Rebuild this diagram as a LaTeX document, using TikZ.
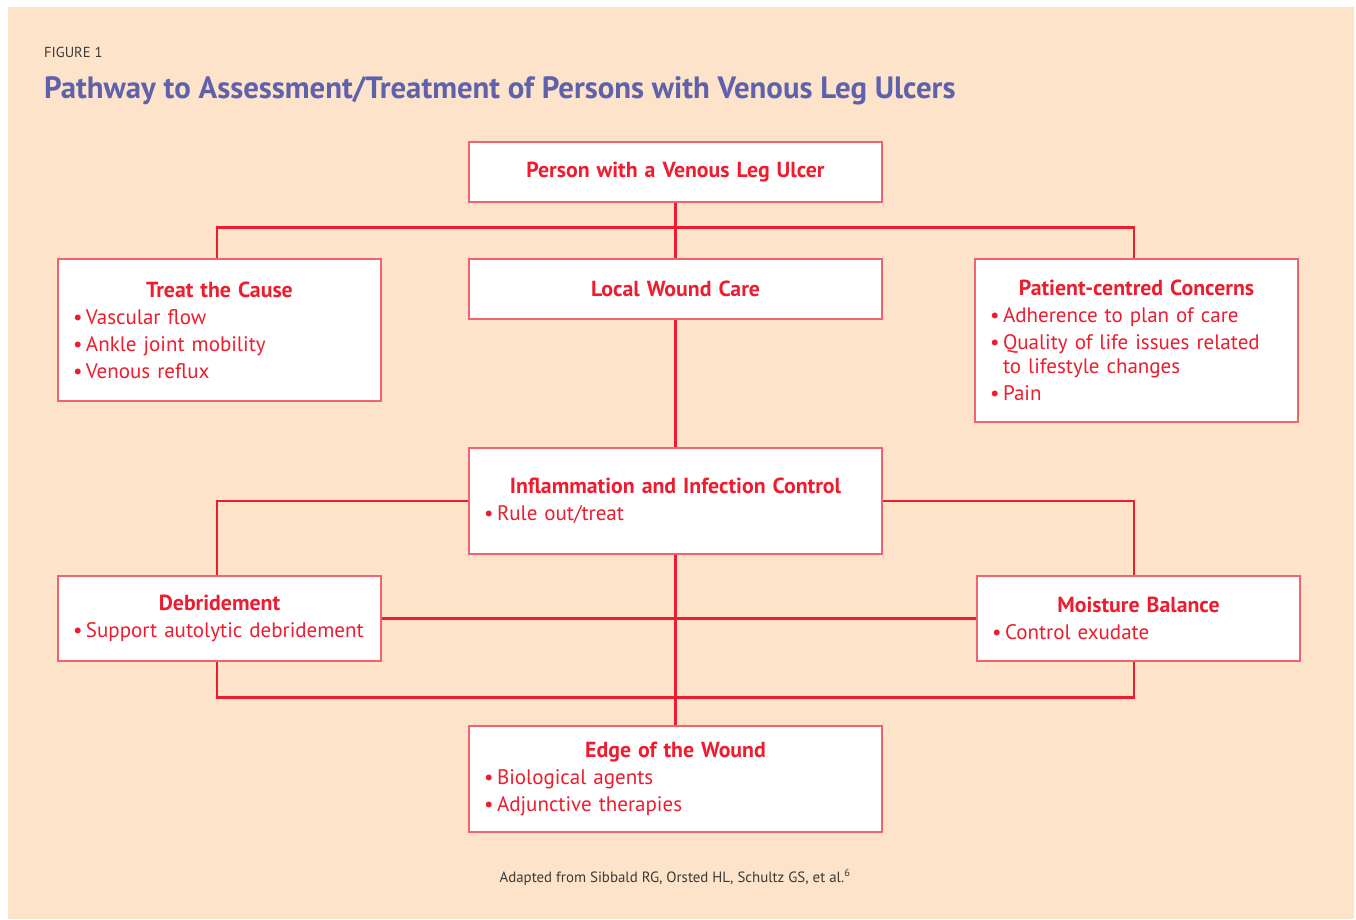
\documentclass[tikz,border=0pt]{standalone}
\usepackage{fontspec}
\setmainfont{PT Sans}
\usepackage{tikz}
\usetikzlibrary{positioning}
\usepackage{xcolor}
\definecolor{vlPeach}{HTML}{FDE3C9}
\definecolor{vlRed}{HTML}{ED1C2E}
\definecolor{vlEdge}{HTML}{F1646E}
\definecolor{vlTitle}{HTML}{5E61AC}
\definecolor{vlGrey}{HTML}{3A3A3A}
\newcommand{\cardhead}[1]{{\centering\fontsize{21.8}{24}\selectfont\bfseries #1\par}}
\newcommand{\bul}[1]{\par\hangindent=13pt\hangafter=1\makebox[13pt][l]{\textbullet}#1}
\tikzset{
  card/.style={draw=vlEdge, line width=1.3pt, fill=white, text=vlRed, align=left, inner xsep=15pt, inner ysep=0pt,
    font=\fontsize{21}{24}\selectfont, execute at begin node={\setlength{\parskip}{3pt}}},
  widecard/.style={card, minimum width=413pt, text width=383pt},
  narrowcard/.style={card, minimum width=323pt, text width=293pt},
  link/.style={draw=vlRed, line width=2.4pt}
}
\begin{document}
\begin{tikzpicture}[x=1pt,y=-1pt]
  \useasboundingbox (0,0) rectangle (1356,919);
  \fill[white] (0,0) rectangle (1356,919);
  \fill[vlPeach] (8,7) rectangle (1354,919);
  \node[anchor=base west, inner sep=0pt, text=vlGrey, font=\fontsize{14.5}{16}\selectfont] (fig) at (44,57) {FIGURE 1};
  \node[anchor=base west, inner sep=0pt, text=vlTitle, font=\fontsize{30.8}{34}\selectfont\bfseries] (title) at (44,98) {Pathway to Assessment/Treatment of Persons with Venous Leg Ulcers};
  \node[widecard, minimum height=60pt] (person) at (675.5,172) {\cardhead{Person with a Venous Leg Ulcer}};
  \node[widecard, minimum height=60pt] (local) at (675.5,289) {\cardhead{Local Wound Care}};
  \node[narrowcard, minimum height=142pt] (cause) at (219.5,330) {\cardhead{Treat the Cause}\bul{Vascular flow}\bul{Ankle joint mobility}\bul{Venous reflux}};
  \node[narrowcard, minimum height=163pt] (patient) at (1136.5,340.5) {\cardhead{Patient-centred Concerns}\bul{Adherence to plan of care}\bul{Quality of life issues related\hfil\break to lifestyle changes}\bul{Pain}};
  \node[widecard, minimum height=106pt] (inflam) at (675.5,501) {\cardhead{Inflammation and Infection Control}\bul{Rule out/treat}};
  \node[narrowcard, minimum height=85pt] (debrid) at (219.5,618.5) {\cardhead{Debridement}\bul{Support autolytic debridement}};
  \node[narrowcard, minimum height=85pt] (moist) at (1138.5,618.5) {\cardhead{Moisture Balance}\bul{Control exudate}};
  \node[widecard, minimum height=106pt] (edge) at (675.5,779) {\cardhead{Edge of the Wound}\bul{Biological agents}\bul{Adjunctive therapies}};
  \draw[link] (person) -- (local);
  \draw[link] ([xshift=-2.5pt]cause.north) -- ++(0,-31) -| ([xshift=-2.5pt]patient.north);
  \draw[link] (local) -- (inflam);
  \draw[link] (inflam.west) -| ([xshift=-2.5pt]debrid.north);
  \draw[link] (inflam.east) -| ([xshift=-4.5pt]moist.north);
  \draw[link] (debrid) -- (moist);
  \draw[link] (inflam) -- (edge);
  \draw[link] ([xshift=-2.5pt]debrid.south) -- ++(0,36) -| ([xshift=-4.5pt]moist.south);
  \node[anchor=base, inner sep=0pt, text=vlGrey, font=\fontsize{14.9}{16}\selectfont] (source) at (675,882) {Adapted from Sibbald RG, Orsted HL, Schultz GS, et al.\textsuperscript{6}};
\end{tikzpicture}
\end{document}
